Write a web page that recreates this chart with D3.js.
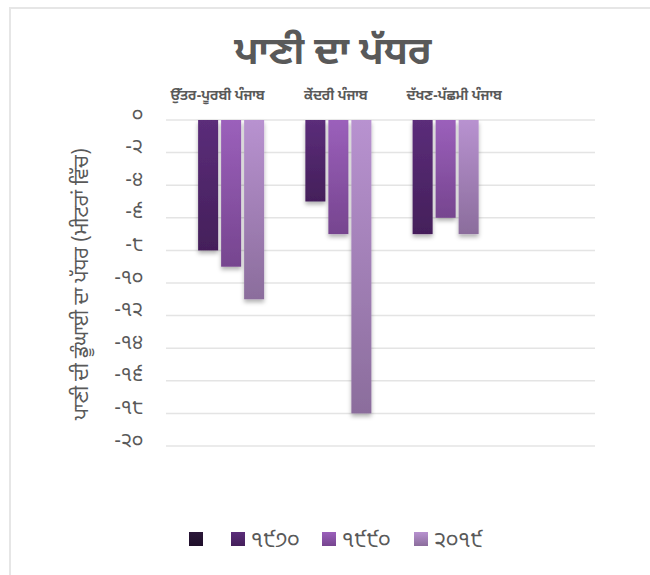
<!DOCTYPE html>
<html>
<head>
<meta charset="utf-8">
<script src="https://cdnjs.cloudflare.com/ajax/libs/d3/7.8.5/d3.min.js"></script>
<style>
  body { margin: 0; background: #fff; }
  svg { display: block; }
  text { font-family: "Noto Sans Gurmukhi", "Noto Sans", "DejaVu Sans", sans-serif; fill: #595959; }
</style>
</head>
<body>
<svg width="650" height="575"></svg>
<script>
// data
var categories = ["ਉੱਤਰ-ਪੂਰਬੀ ਪੰਜਾਬ", "ਕੇਂਦਰੀ ਪੰਜਾਬ", "ਦੱਖਣ-ਪੱਛਮੀ ਪੰਜਾਬ", ""];
var seriesNames = ["", "੧੯੭੦", "੧੯੯੦", "੨੦੧੯"];
var valuesBlank = [0, 0, 0];
var values1970 = [-8, -5, -7];
var values1990 = [-9, -7, -6];
var values2019 = [-11, -18, -7];
var yTicks = [0, -2, -4, -6, -8, -10, -12, -14, -16, -18, -20];

var seriesValues = [valuesBlank, values1970, values1990, values2019];
var topColors = ["#2b1739", "#5b2d7a", "#9b60bb", "#b892d0"];
var bottomColors = ["#1f0f2a", "#441f5a", "#76458f", "#8b6d9c"];

var svg = d3.select("svg");

// rand van de grafiek
svg.append("rect")
    .attr("x", 10).attr("y", 8)
    .attr("width", 660).attr("height", 590)
    .attr("fill", "none")
    .attr("stroke", "#e6e6e6")
    .attr("stroke-width", 2);

var defs = svg.append("defs");

seriesNames.forEach(function(s, i) {
    var grad = defs.append("linearGradient")
        .attr("id", "grad" + i)
        .attr("x1", 0).attr("y1", 0).attr("x2", 0).attr("y2", 1);
    grad.append("stop").attr("offset", "0%").attr("stop-color", topColors[i]);
    grad.append("stop").attr("offset", "100%").attr("stop-color", bottomColors[i]);
});

var shadow = defs.append("filter")
    .attr("id", "shadow")
    .attr("x", "-30%").attr("y", "-10%")
    .attr("width", "160%").attr("height", "130%");
shadow.append("feDropShadow")
    .attr("dx", 0).attr("dy", 3)
    .attr("stdDeviation", 2)
    .attr("flood-color", "#000")
    .attr("flood-opacity", 0.3);

var plot = { left: 166, right: 595, top: 120, bottom: 446 };

var x0 = d3.scaleBand()
    .domain(categories)
    .range([plot.left, plot.right])
    .paddingInner(0.17)
    .paddingOuter(0.085);

var x1 = d3.scaleBand()
    .domain(d3.range(seriesNames.length))
    .range([0, x0.bandwidth()])
    .paddingInner(0.13);

var y = d3.scaleLinear()
    .domain([-20, 0])
    .range([plot.bottom, plot.top]);

function gurmukhi(n) {
    var digits = "੦੧੨੩੪੫੬੭੮੯";
    return String(n).replace(/[0-9]/g, function(c) { return digits[+c]; });
}

// titel
svg.append("text")
    .attr("x", 333).attr("y", 64)
    .attr("text-anchor", "middle")
    .style("font-size", "38px")
    .style("font-weight", "bold")
    .text("ਪਾਣੀ ਦਾ ਪੱਧਰ");

// rasterlijnen
svg.append("g")
    .selectAll("line")
    .data(yTicks)
    .enter().append("line")
    .attr("x1", plot.left).attr("x2", plot.right)
    .attr("y1", function(d) { return y(d); })
    .attr("y2", function(d) { return y(d); })
    .attr("stroke", "#e4e4e4")
    .attr("stroke-width", 1.5);

// y-as
var yAxis = svg.append("g")
    .attr("transform", "translate(" + (plot.left - 23) + ",0)")
    .call(d3.axisLeft(y).tickValues(yTicks).tickSize(0).tickPadding(0).tickFormat(gurmukhi));
yAxis.select(".domain").remove();
yAxis.selectAll("text")
    .attr("dy", "0.05em")
    .attr("y", -1)
    .style("font-size", "20px")
    .style("font-family", "\"Noto Sans Gurmukhi\", \"Noto Sans\", sans-serif")
    .attr("fill", "#595959");

// x-as labels bovenaan
svg.append("g")
    .selectAll("text")
    .data(categories.filter(function(c) { return c !== ""; }))
    .enter().append("text")
    .attr("x", function(d, i) { return x0(d) + x0.bandwidth() / 2 - 2 + i * 11; })
    .attr("y", 100)
    .attr("text-anchor", "middle")
    .style("font-size", "13.5px")
    .style("font-weight", "bold")
    .text(function(d) { return d; });

// as titel
svg.append("text")
    .attr("transform", "translate(88,284) rotate(-90)")
    .attr("text-anchor", "middle")
    .style("font-size", "20px")
    .text("ਪਾਣੀ ਦੀ ਡੂੰਘਾਈ ਦਾ ਪੱਧਰ (ਮੀਟਰਾਂ ਵਿੱਚ)");

// staven
var groups = svg.append("g")
    .selectAll("g")
    .data(categories.slice(0, 3))
    .enter().append("g")
    .attr("transform", function(d) { return "translate(" + x0(d) + ",0)"; });

groups.selectAll("rect")
    .data(function(d, ci) {
        return seriesValues.map(function(vals, si) { return { s: si, value: vals[ci] }; });
    })
    .enter().append("rect")
    .attr("x", function(d) { return x1(d.s); })
    .attr("y", function(d) { return y(0); })
    .attr("width", x1.bandwidth())
    .attr("height", function(d) { return y(d.value) - y(0); })
    .attr("fill", function(d) { return "url(#grad" + d.s + ")"; })
    .attr("filter", "url(#shadow)");

// legenda
var legendX = [189, 231, 322, 414];
var legend = svg.append("g")
    .selectAll("g")
    .data(seriesNames)
    .enter().append("g")
    .attr("transform", function(d, i) { return "translate(" + legendX[i] + ",532)"; });

legend.append("rect")
    .attr("width", 14).attr("height", 14)
    .attr("fill", function(d, i) { return "url(#grad" + i + ")"; });

legend.append("text")
    .attr("x", 20).attr("y", 15)
    .style("font-size", "22px")
    .text(function(d) { return d; });
</script>
</body>
</html>
